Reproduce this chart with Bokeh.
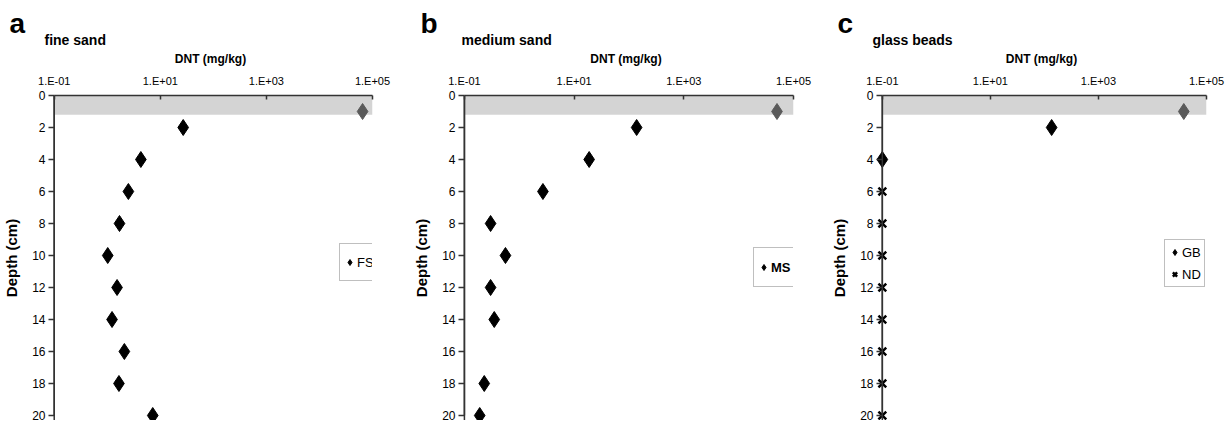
from bokeh.plotting import figure
from bokeh.layouts import row
from bokeh.models import (Range1d, FixedTicker, CustomJSTickFormatter, BoxAnnotation,
                          Title, Legend, LegendItem, ColumnDataSource, Span)
from bokeh.embed import file_html
from bokeh.resources import INLINE

# ---------------- data ----------------
x_ticks = [0.1, 10, 1000, 100000]
x_tick_labels = ["1.E-01", "1.E+01", "1.E+03", "1.E+05"]
y_ticks = [0, 2, 4, 6, 8, 10, 12, 14, 16, 18, 20]
surface_layer = [0, 1.2]          # shaded surface layer, depth (cm)

fs_depth = [1, 2, 4, 6, 8, 10, 12, 14, 16, 18, 20]
fs_dnt = [65000, 27, 4.3, 2.5, 1.7, 1.02, 1.53, 1.23, 2.1, 1.66, 7.2]

ms_depth = [1, 2, 4, 6, 8, 10, 12, 14, 18, 20]
ms_dnt = [50000, 138, 18.8, 2.7, 0.30, 0.56, 0.30, 0.35, 0.23, 0.19]

gb_depth = [1, 2, 4]
gb_dnt = [38000, 136, 0.1]
nd_depth = [6, 8, 10, 12, 14, 16, 18, 20]
nd_dnt = [0.1, 0.1, 0.1, 0.1, 0.1, 0.1, 0.1, 0.1]

# ---------------- style ----------------
FONT = "Liberation Sans"
AX = "#333333"
FIG_H = 420
TOP = 95
X_LO, X_HI = 0.1, 1e5          # axis extent
X_VIEW_LO = 0.078              # small margin so markers on the axis are not clipped
Y_LO, Y_HI = 0, 20
Y_VIEW_HI = 20.3125
TICK = 6


def make_panel(fig_x, letter, title, width, bl, br, series, legend_page, item_h,
               legend_bold=False):
    p = figure(width=width, height=FIG_H, x_axis_type="log",
               x_range=Range1d(X_VIEW_LO, X_HI), y_range=Range1d(Y_VIEW_HI, Y_LO),
               x_axis_location="above", output_backend="svg", toolbar_location=None,
               min_border_left=bl, min_border_right=br, min_border_top=TOP,
               min_border_bottom=0)
    p.outline_line_color = None
    p.xgrid.visible = False
    p.ygrid.visible = False
    p.background_fill_color = "white"
    p.border_fill_color = "white"

    p.add_layout(BoxAnnotation(left=X_LO, top=surface_layer[0], bottom=surface_layer[1],
                               fill_color="#d4d4d4", fill_alpha=1.0,
                               line_color=None, level="underlay"))

    xa = p.xaxis[0]
    xa.bounds = (X_LO, X_HI)
    xa.ticker = FixedTicker(ticks=x_ticks, minor_ticks=[])
    xa.formatter = CustomJSTickFormatter(args=dict(tvals=x_ticks, tlabs=x_tick_labels), code="""
        for (let i = 0; i < tvals.length; i++) {
            if (Math.abs(Math.log10(tick) - Math.log10(tvals[i])) < 1e-6) return tlabs[i];
        }
        return "";
    """)
    xa.axis_label = "DNT (mg/kg)"
    xa.axis_label_text_font = FONT
    xa.axis_label_text_font_style = "bold"
    xa.axis_label_text_font_size = "12px"
    xa.axis_label_text_color = "black"
    xa.axis_label_standoff = 6
    xa.major_label_text_font = FONT
    xa.major_label_text_font_size = "11px"
    xa.major_label_text_color = "black"
    xa.major_label_standoff = 9
    xa.major_tick_in = 4
    xa.major_tick_out = 0
    xa.minor_tick_line_color = None
    xa.axis_line_color = AX
    xa.axis_line_width = 1.5
    xa.major_tick_line_color = AX
    xa.major_tick_line_width = 1.5

    # y axis: ticks drawn from the frame edge up to the axis line at x = 0.1
    ya = p.yaxis[0]
    ya.bounds = (Y_LO, Y_HI)
    ya.ticker = FixedTicker(ticks=y_ticks, minor_ticks=[])
    ya.axis_label = "Depth (cm)"
    ya.axis_label_text_font = FONT
    ya.axis_label_text_font_style = "bold"
    ya.axis_label_text_font_size = "15px"
    ya.axis_label_text_color = "black"
    ya.axis_label_standoff = 9
    ya.major_label_text_font = FONT
    ya.major_label_text_font_size = "12px"
    ya.major_label_text_color = "black"
    ya.major_label_standoff = 3
    ya.major_tick_in = TICK
    ya.major_tick_out = 0
    ya.minor_tick_line_color = None
    ya.axis_line_color = None
    ya.major_tick_line_color = AX
    ya.major_tick_line_width = 1.5
    p.add_layout(Span(location=X_LO, dimension="height", line_color=AX, line_width=1.5,
                      level="guide"))
    p.line(x=[X_LO, X_LO], y=[Y_LO, Y_HI], line_color=AX, line_width=1.5)

    items = []
    for s in series:
        depth, dnt, label, marker = s
        if marker == "diamond":
            top_src = ColumnDataSource(dict(x=dnt[:1], y=depth[:1]))
            rest_src = ColumnDataSource(dict(x=dnt[1:], y=depth[1:]))
            p.scatter("x", "y", source=top_src, marker="diamond", size=16,
                      fill_color="#5a5a5a", line_color="#5a5a5a")
            r = p.scatter("x", "y", source=rest_src, marker="diamond", size=16,
                          fill_color="black", line_color="black")
        else:
            src = ColumnDataSource(dict(x=dnt, y=depth))
            r = p.scatter("x", "y", source=src, marker="x", size=11,
                          line_color="black", line_width=2.5)
        items.append(LegendItem(label=label, renderers=[r]))

    frame_left = fig_x + bl
    lx, ly, lh = legend_page
    leg = Legend(items=items, location=(lx - frame_left, FIG_H - ly - lh),
                 margin=0, padding=2, spacing=2,
                 glyph_width=15, glyph_height=item_h, label_height=item_h,
                 label_standoff=0, label_text_font=FONT, label_text_font_size="13px",
                 label_text_color="black",
                 label_text_font_style="bold" if legend_bold else "normal",
                 border_line_color="#808080", border_line_width=1.5,
                 background_fill_color="white", background_fill_alpha=1.0)
    p.add_layout(leg)

    p.add_layout(Title(text=title[0], align="left", offset=title[1] - frame_left, standoff=2,
                       text_font=FONT, text_font_style="bold", text_font_size="14px",
                       text_color="black", vertical_align="bottom"), "above")
    p.add_layout(Title(text=letter[0], align="left", offset=letter[1] - frame_left, standoff=-21,
                       text_font=FONT, text_font_style="bold", text_font_size="28px",
                       text_color="black", vertical_align="bottom"), "above")
    return p


pa = make_panel(0, ("a", 8), ("fine sand", 43), 410, 47, 38,
                [(fs_depth, fs_dnt, "FS", "diamond")], (338, 245, 36), 32)
pb = make_panel(410, ("b", 416), ("medium sand", 457), 410, 44, 27,
                [(ms_depth, ms_dnt, "MS", "diamond")], (749, 249, 38), 34, legend_bold=True)
pc = make_panel(820, ("c", 837), ("glass beads", 872), 411, 56, 25,
                [(gb_depth, gb_dnt, "GB", "diamond"), (nd_depth, nd_dnt, "ND", "x")],
                (1164, 241, 46), 20)

layout = row(pa, pb, pc)
open("out.html", "w").write(file_html(layout, INLINE))
